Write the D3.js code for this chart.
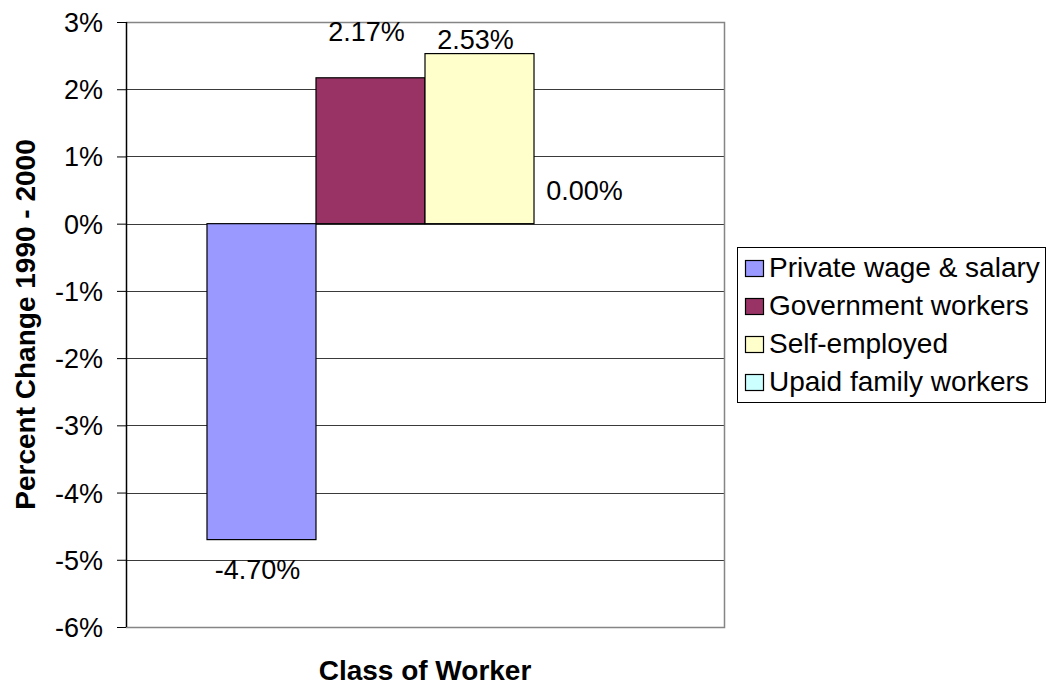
<!DOCTYPE html>
<html>
<head>
<meta charset="utf-8">
<script src="https://cdn.jsdelivr.net/npm/d3@7/dist/d3.min.js"></script>
<style>
  html, body { margin: 0; padding: 0; background: #fff; }
  svg { display: block; font-family: "Liberation Sans", Arial, sans-serif; }
</style>
</head>
<body>
<svg id="chart" width="1051" height="688"></svg>
<script>
// Percent change in workers by class, 1990 - 2000
const categories = ["Class of Worker"];
const seriesNames = ["Private wage & salary", "Government workers", "Self-employed", "Upaid family workers"];
const seriesValues = [-4.70, 2.17, 2.53, 0.00];
const seriesColors = ["#9999FF", "#993366", "#FFFFCC", "#CCFFFF"];
const yTicks = [-6, -5, -4, -3, -2, -1, 0, 1, 2, 3];

const svg = d3.select("#chart");
const plot = { left: 126, right: 724, top: 22, bottom: 627 };

const y = d3.scaleLinear().domain([-6, 3]).range([plot.bottom, plot.top]);
const x0 = d3.scaleBand().domain(categories).range([plot.left, plot.right]);
const x1 = d3.scaleBand().domain(seriesNames).range([0, x0.bandwidth()])
  .paddingInner(0).paddingOuter(0.743);

// horizontal gridlines
svg.append("g").selectAll("line")
  .data(yTicks.filter(t => t > -6 && t < 3))
  .join("line")
  .attr("x1", plot.left).attr("x2", plot.right)
  .attr("y1", d => Math.round(y(d)) + 0.5).attr("y2", d => Math.round(y(d)) + 0.5)
  .attr("stroke", "#3a3a3a").attr("stroke-width", 1);

// plot area border (top, right, bottom)
svg.append("path")
  .attr("d", `M${plot.left},${plot.top + 0.5}H${plot.right + 0.5}V${plot.bottom + 0.5}H${plot.left}`)
  .attr("fill", "none").attr("stroke", "#858585").attr("stroke-width", 1.5);

// bars
const group = svg.append("g").attr("transform", `translate(${x0(categories[0])},0)`);
const bars = seriesNames.map((name, i) => ({ name, value: seriesValues[i], color: seriesColors[i] }));
group.selectAll("rect")
  .data(bars)
  .join("rect")
  .attr("x", d => x1(d.name))
  .attr("width", x1.bandwidth())
  .attr("y", d => y(Math.max(0, d.value)))
  .attr("height", d => Math.abs(y(d.value) - y(0)))
  .attr("fill", d => d.color)
  .attr("stroke", "#000").attr("stroke-width", 1.2);

// value labels (nudged apart where they would crowd)
const labelNudge = [14, -32, 0, -19];
group.selectAll("text.val")
  .data(bars)
  .join("text")
  .attr("class", "val")
  .attr("x", d => x1(d.name) + x1.bandwidth() / 2 - 4)
  .attr("y", (d, i) => (d.value < 0 ? y(d.value) + 25 : y(d.value) - 5) + labelNudge[i])
  .attr("text-anchor", "middle")
  .attr("font-size", 27)
  .attr("fill", "#000")
  .text(d => d.value.toFixed(2) + "%");

// y axis
const yAxis = svg.append("g")
  .attr("transform", `translate(${plot.left},0)`)
  .call(d3.axisLeft(y).tickValues(yTicks).tickSize(9).tickPadding(14)
    .tickFormat(d => d + "%"));
yAxis.select(".domain").attr("stroke", "#000").attr("stroke-width", 1.5)
  .attr("d", `M0.5,${plot.top}V${plot.bottom}`);
yAxis.selectAll(".tick line").attr("stroke", "#000").attr("stroke-width", 1);
yAxis.selectAll(".tick text")
  .attr("font-size", 27)
  .attr("font-family", "'Liberation Sans', Arial, sans-serif")
  .attr("fill", "#000")
  .attr("dy", "0.35em");

// axis titles
svg.append("text")
  .attr("x", (plot.left + plot.right) / 2)
  .attr("y", 680)
  .attr("text-anchor", "middle")
  .attr("font-size", 28).attr("font-weight", "bold")
  .text(categories[0]);

svg.append("text")
  .attr("transform", `translate(35,${(plot.top + plot.bottom) / 2}) rotate(-90)`)
  .attr("text-anchor", "middle")
  .attr("font-size", 28).attr("font-weight", "bold")
  .text("Percent Change 1990 - 2000");

// legend
const legend = svg.append("g");
legend.append("rect")
  .attr("x", 737.5).attr("y", 247.5).attr("width", 308).attr("height", 155)
  .attr("fill", "#fff").attr("stroke", "#000").attr("stroke-width", 1);
const rows = legend.selectAll("g.row")
  .data(bars)
  .join("g")
  .attr("class", "row")
  .attr("transform", (d, i) => `translate(0,${277 + i * 38})`);
rows.append("rect")
  .attr("x", 745.5).attr("y", -16.5).attr("width", 18).attr("height", 16)
  .attr("fill", d => d.color).attr("stroke", "#000").attr("stroke-width", 1.2);
rows.append("text")
  .attr("x", 769).attr("y", 0)
  .attr("font-size", 28)
  .attr("fill", "#000")
  .text(d => d.name);
</script>
</body>
</html>
